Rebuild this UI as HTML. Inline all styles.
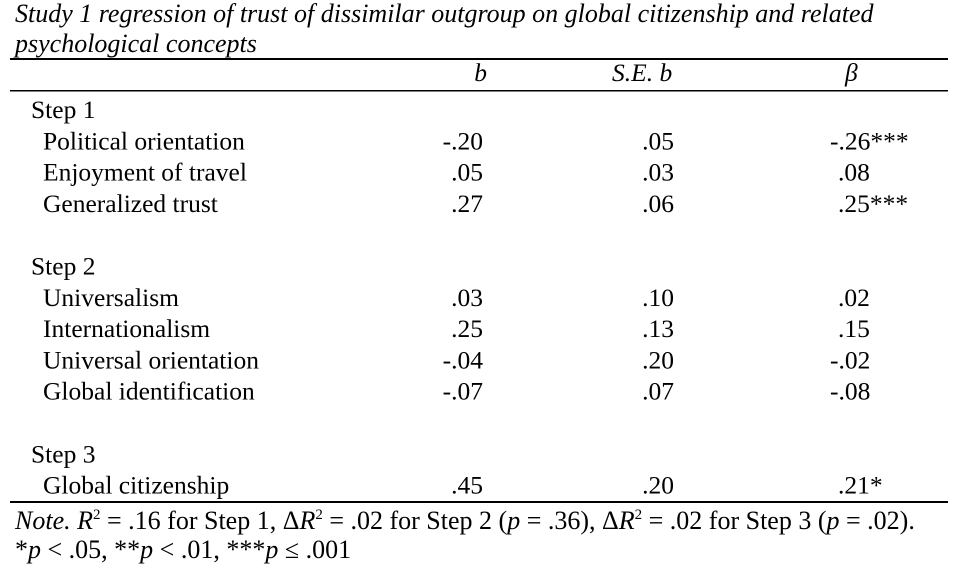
<!DOCTYPE html>
<html><head><meta charset="utf-8"><style>
body{margin:0;background:#fff;}
svg{display:block;font-family:"Liberation Serif",serif;font-size:25.5px;fill:#000;}
</style></head><body>
<svg width="964" height="568" viewBox="0 0 964 568">
<text x="15" y="22" font-style="italic" font-size="26">Study 1 regression of trust of dissimilar outgroup on global citizenship and related</text>
<text x="15" y="52" font-style="italic" font-size="26">psychological concepts</text>
<rect x="10" y="58" width="938" height="2" fill="#000"/>
<text x="487" y="81" text-anchor="end" font-style="italic">b</text>
<text x="612" y="81" font-style="italic">S.E. b</text>
<text x="845" y="81" font-style="italic">β</text>
<rect x="10" y="90" width="938" height="1.5" fill="#000"/>
<g id="rows"></g>
<rect x="10" y="501" width="938" height="2" fill="#000"/>
<text x="15" y="529" font-size="26"><tspan font-style="italic">Note.</tspan> <tspan font-style="italic">R</tspan><tspan font-size="15" dy="-10">2</tspan><tspan dy="10"> = .16 for Step 1, Δ</tspan><tspan font-style="italic">R</tspan><tspan font-size="15" dy="-10">2</tspan><tspan dy="10"> = .02 for Step 2 (</tspan><tspan font-style="italic">p</tspan> = .36), Δ<tspan font-style="italic">R</tspan><tspan font-size="15" dy="-10">2</tspan><tspan dy="10"> = .02 for Step 3 (</tspan><tspan font-style="italic">p</tspan> = .02).</text>
<text x="15" y="558" font-size="26">*<tspan font-style="italic">p</tspan> &lt; .05, **<tspan font-style="italic">p</tspan> &lt; .01, ***<tspan font-style="italic">p</tspan> ≤ .001</text>
</svg>
<script>
const labels=["Step 1","Political orientation","Enjoyment of travel","Generalized trust","","Step 2","Universalism","Internationalism","Universal orientation","Global identification","","Step 3","Global citizenship"];
const bVals=["","-.20",".05",".27","","",".03",".25","-.04","-.07","","",".45"];
const seVals=["",".05",".03",".06","","",".10",".13",".20",".07","","",".20"];
const betaVals=["","-.26***",".08",".25***","","",".02",".15","-.02","-.08","","",".21*"];
const g=document.getElementById('rows');
const NS="http://www.w3.org/2000/svg";
function t(x,y,s,anchor){const e=document.createElementNS(NS,'text');e.setAttribute('x',x);e.setAttribute('y',y);if(anchor)e.setAttribute('text-anchor',anchor);e.textContent=s;g.appendChild(e);return e;}
labels.forEach((l,i)=>{
 const y=118+i*31.3;
 const isStep=l.startsWith("Step");
 if(l){const e=t(isStep?31:43,y,l);
 
 }
 if(bVals[i]){const e=t(483,y,bVals[i],'end');
 
 }
 if(seVals[i]){const e=t(674,y,seVals[i],'end');
 
 }
 if(betaVals[i]){const v=betaVals[i];const e=t(v.startsWith('-')?830:838,y,v);
 
 }
});
</script>
</body></html>
